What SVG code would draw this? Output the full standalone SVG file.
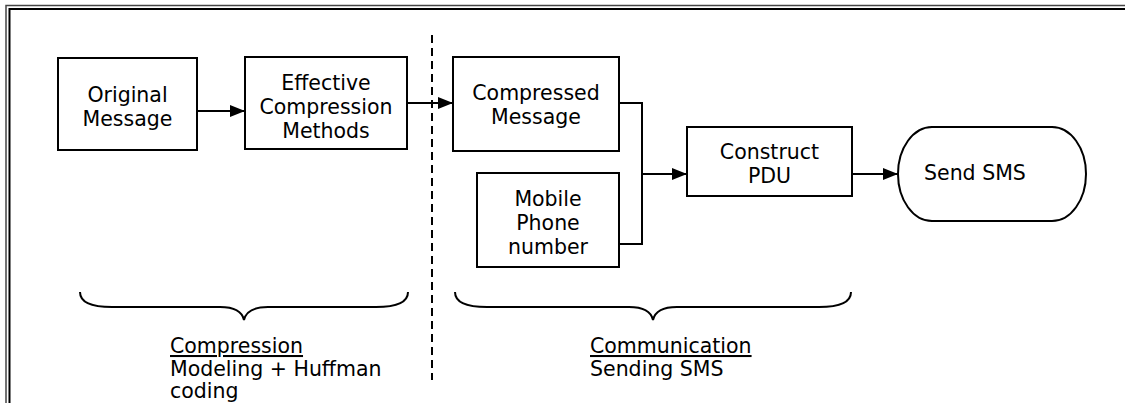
<svg xmlns="http://www.w3.org/2000/svg" width="1125" height="403" viewBox="0 0 1125 403">
  <defs>
    <marker id="arrow" markerUnits="userSpaceOnUse" markerWidth="15" markerHeight="13" refX="15" refY="6.5" orient="auto">
      <path d="M0,0.5 L15,6.5 L0,12.5 z" fill="#000"/>
    </marker>
    <style>
      .box { fill: #fff; stroke: #000; stroke-width: 2; }
      .lbl { font-family: "DejaVu Sans", Verdana, sans-serif; font-size: 20.5px; fill: #000; text-anchor: middle; }
      .cap { font-family: "DejaVu Sans", Verdana, sans-serif; font-size: 20.5px; fill: #000; }
      .wire { fill: none; stroke: #000; stroke-width: 2; }
      .brace { fill: none; stroke: #000; stroke-width: 2; }
    </style>
  </defs>

  <rect width="1125" height="403" fill="#fff"/>

  <!-- double frame, open to the right and bottom -->
  <g id="frame" fill="none">
    <path d="M6,420 V5.5 H1140" stroke="#444" stroke-width="1.5"/>
    <path d="M9.5,420 V9 H1140" stroke="#000" stroke-width="2"/>
  </g>

  <!-- separator between the two stages -->
  <line id="separator" x1="432" y1="35" x2="432" y2="380" stroke="#000" stroke-width="2" stroke-dasharray="8,5"/>

  <g id="connectors">
    <line class="wire" x1="197" y1="111" x2="245" y2="111" marker-end="url(#arrow)"/>
    <line class="wire" x1="407" y1="103" x2="453" y2="103" marker-end="url(#arrow)"/>
    <path class="wire" d="M619,103 H642 V244 H619"/>
    <line class="wire" x1="642" y1="174" x2="687" y2="174" marker-end="url(#arrow)"/>
    <line class="wire" x1="852" y1="174" x2="898" y2="174" marker-end="url(#arrow)"/>
  </g>

  <g id="original-message">
    <rect class="box" x="58" y="58" width="139" height="92"/>
    <text class="lbl" x="127.5" y="102">Original</text>
    <text class="lbl" x="127.5" y="126">Message</text>
  </g>

  <g id="compression-methods">
    <rect class="box" x="245" y="57" width="162" height="92"/>
    <text class="lbl" x="326" y="90">Effective</text>
    <text class="lbl" x="326" y="114">Compression</text>
    <text class="lbl" x="326" y="138">Methods</text>
  </g>

  <g id="compressed-message">
    <rect class="box" x="453" y="57" width="166" height="94"/>
    <text class="lbl" x="536" y="100">Compressed</text>
    <text class="lbl" x="536" y="124">Message</text>
  </g>

  <g id="phone-number">
    <rect class="box" x="477" y="173" width="142" height="94"/>
    <text class="lbl" x="548" y="206">Mobile</text>
    <text class="lbl" x="548" y="230">Phone</text>
    <text class="lbl" x="548" y="254">number</text>
  </g>

  <g id="construct-pdu">
    <rect class="box" x="687" y="127" width="165" height="69"/>
    <text class="lbl" x="769.5" y="159">Construct</text>
    <text class="lbl" x="769.5" y="183">PDU</text>
  </g>

  <g id="send-sms">
    <rect class="box" x="898" y="127" width="188" height="94" rx="34" ry="47"/>
    <text class="cap" x="924" y="180">Send SMS</text>
  </g>

  <g id="compression-stage">
    <path class="brace" d="M80,292 C80,302 90,307 112,307 L220,307 C234,307 242,311 244,320 C246,311 254,307 268,307 L376,307 C398,307 408,302 408,292"/>
    <text class="cap" x="170" y="353" text-decoration="underline">Compression</text>
    <text class="cap" x="170" y="376">Modeling + Huffman</text>
    <text class="cap" x="170" y="398">coding</text>
  </g>

  <g id="communication-stage">
    <path class="brace" d="M455,292 C455,302 465,307 487,307 L629,307 C643,307 651,311 653,320 C655,311 663,307 677,307 L819,307 C841,307 851,302 851,292"/>
    <text class="cap" x="590" y="353" text-decoration="underline">Communication</text>
    <text class="cap" x="590" y="376">Sending SMS</text>
  </g>
</svg>
